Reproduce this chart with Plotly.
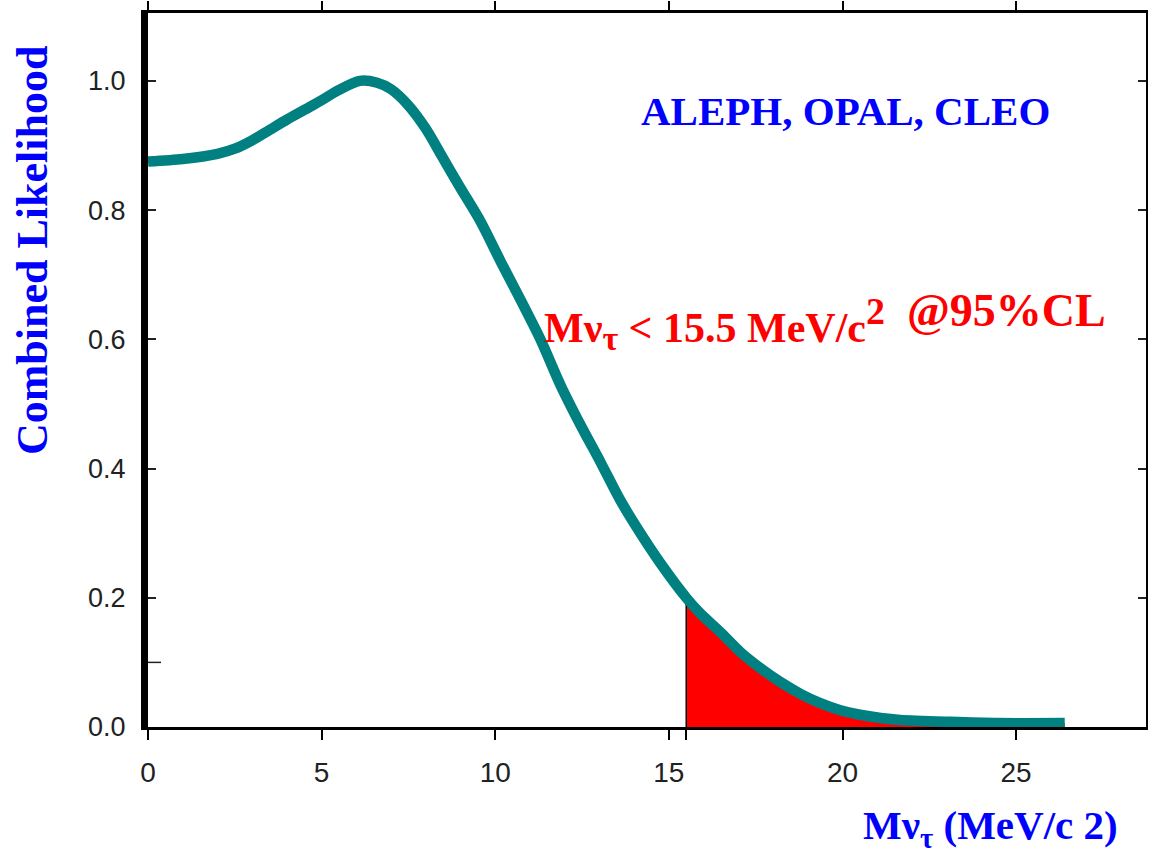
import plotly.graph_objects as go

# Combined likelihood curve for the tau-neutrino mass
mass = [0.0, 1.0, 2.0, 2.5, 3.0, 3.5, 4.0, 4.5, 5.0, 5.5, 6.1, 6.6, 7.0,
        7.5, 8.0, 8.5, 9.0, 9.58, 10.16, 10.73, 11.31, 11.88, 12.46, 13.03,
        13.6, 14.18, 14.75, 15.5, 15.9, 16.48, 17.06, 17.64, 18.2, 18.8,
        19.36, 19.94, 20.5, 21.1, 21.66, 23.1, 24.5, 26.4]
likelihood = [0.875, 0.879, 0.887, 0.895, 0.908, 0.924, 0.940, 0.955, 0.970,
              0.986, 1.000, 0.997, 0.987, 0.962, 0.926, 0.880, 0.834, 0.782,
              0.720, 0.661, 0.599, 0.529, 0.467, 0.410, 0.351, 0.300, 0.254,
              0.200, 0.176, 0.147, 0.116, 0.091, 0.070, 0.051, 0.037, 0.026,
              0.019, 0.014, 0.011, 0.008, 0.006, 0.006]

limit = 15.5  # 95% CL upper limit, MeV/c^2
x_ticks = [0, 5, 10, 15, 20, 25]
y_ticks = [0.0, 0.2, 0.4, 0.6, 0.8, 1.0]
y_tick_text = ["0.0", "0.2", "0.4", "0.6", "0.8", "1.0"]

TEAL = "#008080"
SERIF = "Liberation Serif"
SANS = "Liberation Sans"

tail_x = [m for m in mass if m >= limit]
tail_y = [l for m, l in zip(mass, likelihood) if m >= limit]
limit_y = likelihood[mass.index(limit)]

fig = go.Figure()

# excluded tail above the limit
fig.add_trace(go.Scatter(x=tail_x, y=tail_y, mode="lines", fill="tozeroy",
                         fillcolor="#ff0000",
                         line=dict(width=0, color="#ff0000", shape="spline", smoothing=0.8),
                         hoverinfo="skip", showlegend=False))
# limit marker
fig.add_trace(go.Scatter(x=[limit, limit], y=[0, limit_y], mode="lines",
                         line=dict(color="black", width=1.5),
                         hoverinfo="skip", showlegend=False))
# likelihood curve
fig.add_trace(go.Scatter(x=mass, y=likelihood, mode="lines",
                         line=dict(color=TEAL, width=10.5, shape="spline", smoothing=0.8),
                         showlegend=False))
# invisible trace carrying the mirrored top/right axes
fig.add_trace(go.Scatter(x=[None], y=[None], xaxis="x2", yaxis="y2",
                         showlegend=False, hoverinfo="skip"))

x_range = [0, 28.74]
y_range = [0, 1.105]

fig.update_layout(
    width=1149, height=857,
    margin=dict(l=148, r=3, t=13, b=130),
    paper_bgcolor="white", plot_bgcolor="white",
    showlegend=False,
    xaxis=dict(range=x_range, showgrid=False, zeroline=False,
               showline=True, linecolor="black", linewidth=3,
               ticks="outside", ticklen=10, tickwidth=1.5, tickcolor="black",
               tickvals=x_ticks + [limit],
               ticktext=[str(v) for v in x_ticks] + [" "],
               ticklabelstandoff=8,
               tickfont=dict(family=SANS, size=28, color="#222")),
    yaxis=dict(range=y_range, showgrid=False, zeroline=False,
               showline=True, linecolor="black", linewidth=7,
               ticks="inside", ticklen=8, tickwidth=1.5, tickcolor="#222",
               tickvals=y_ticks, ticktext=y_tick_text,
               ticklabelstandoff=10,
               tickfont=dict(family=SANS, size=27, color="#222")),
    xaxis2=dict(range=x_range, overlaying="x", side="top", showgrid=False,
                zeroline=False, showline=True, linecolor="black", linewidth=3,
                ticks="outside", ticklen=9, tickwidth=1.5, tickcolor="black",
                tickvals=x_ticks, showticklabels=False),
    yaxis2=dict(range=y_range, overlaying="y", side="right", showgrid=False,
                zeroline=False, showline=True, linecolor="black", linewidth=2,
                ticks="inside", ticklen=8, tickwidth=1.5, tickcolor="#222",
                tickvals=y_ticks[1:], showticklabels=False),
)

# minor left tick at 0.1
fig.add_shape(type="line", xref="paper", yref="y", xsizemode="pixel",
              xanchor=0, x0=0, x1=13, y0=0.1, y1=0.1,
              line=dict(color="#222", width=1.5))

fig.add_annotation(text="ALEPH, OPAL, CLEO", xref="x", yref="y",
                   x=20.1, y=0.9536, xanchor="center", yanchor="middle",
                   showarrow=False,
                   font=dict(family=SERIF, size=41, color="#0000ff", weight="bold"))

fig.add_annotation(
    text="Mν<sub><span style='font-size:34px'>τ</span></sub> &lt; 15.5 MeV/c"
         "<sup><span style='font-size:38px'>2</span></sup>",
    xref="x", yref="y", x=11.35, y=0.624, xanchor="left", yanchor="middle",
    showarrow=False,
    font=dict(family=SERIF, size=42, color="#ff0000", weight="bold"))
fig.add_annotation(text="@95%CL", xref="x", yref="y",
                   x=21.8, y=0.645, xanchor="left", yanchor="middle",
                   showarrow=False,
                   font=dict(family=SERIF, size=46, color="#ff0000", weight="bold"))

fig.add_annotation(text="Combined Likelihood", xref="paper", yref="paper",
                   x=-0.1162, y=0.668, xanchor="center", yanchor="middle",
                   textangle=-90, showarrow=False,
                   font=dict(family=SERIF, size=44, color="#0000ff", weight="bold"))

fig.add_annotation(
    text="Mν<sub>τ</sub> (MeV/c 2)",
    xref="paper", yref="paper", x=0.974, y=-0.142, xanchor="right", yanchor="middle",
    showarrow=False,
    font=dict(family=SERIF, size=41, color="#0000ff", weight="bold"))

fig.write_html("out.html")
